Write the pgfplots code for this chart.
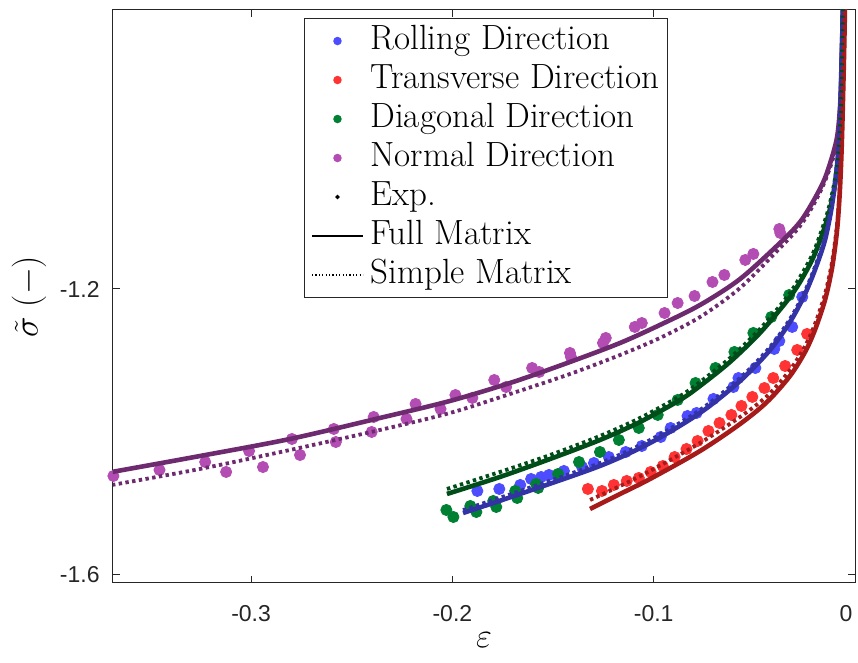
\documentclass[border=0pt]{standalone}
\usepackage{fontspec}
\newfontfamily\ticksfont{Liberation Sans}
\usepackage{pgfplots}
\pgfplotsset{compat=1.18}
\definecolor{dotB}{RGB}{77,77,255}
\definecolor{dotR}{RGB}{255,51,51}
\definecolor{dotG}{RGB}{0,128,51}
\definecolor{dotP}{RGB}{179,77,179}
\definecolor{lnB}{RGB}{51,51,166}
\definecolor{lnR}{RGB}{166,26,26}
\definecolor{lnG}{RGB}{0,77,26}
\definecolor{lnP}{RGB}{110,42,110}
\definecolor{axc}{RGB}{38,38,38}
\begin{document}
\begin{tikzpicture}
\begin{axis}[
  scale only axis, width=371pt, height=286.5pt,
  xmin=-0.3686, xmax=0, ymin=-1.6112, ymax=-0.8098,
  clip mode=individual,
  axis line style={axc, line width=0.5pt},
  tick style={axc, line width=0.5pt},
  tick align=inside, major tick length=3.7pt,
  xtick={-0.3,-0.2,-0.1,0}, xticklabels={-0.3,-0.2,-0.1,\hspace*{-9pt}0},
  ytick={-1.6,-1.2}, yticklabels={-1.6,-1.2},
  xticklabel style={font=\ticksfont\fontsize{11.5}{13}\selectfont, text=axc, inner sep=0pt, anchor=north, yshift=-11pt},
  yticklabel style={font=\ticksfont\fontsize{11.5}{13}\selectfont, text=axc, inner sep=0pt, anchor=east, xshift=-6.5pt},
  xlabel={$\varepsilon$},
  ylabel={$\tilde{\sigma}\;(-)$},
  xlabel style={font=\fontsize{16}{19}\selectfont, at={(axis description cs:0.5,-0.0995)}, anchor=center},
  ylabel style={font=\fontsize{16}{19}\selectfont, at={(axis description cs:-0.1132,0.5)}, anchor=center},
  legend style={at={(0.2574,0.986)}, anchor=north west, draw=axc, line width=0.5pt, fill=white,
    inner xsep=2pt, inner ysep=1.5pt, row sep=0pt, column sep=0pt,
    nodes={inner xsep=2pt, inner ysep=1.75pt, text height=12pt, text depth=4pt, font=\fontsize{17.5}{20}\selectfont}},
  legend cell align=left,
  every mark/.append style={draw=none},
]
% experimental points
\addplot[dotP, only marks, mark=*, mark size=2.8pt, forget plot] table {
-0.3684 -1.4615
-0.3455 -1.4531
-0.3228 -1.4420
-0.3124 -1.4559
-0.3010 -1.4266
-0.2941 -1.4490
-0.2797 -1.4098
-0.2757 -1.4322
-0.2589 -1.3958
-0.2579 -1.4140
-0.2391 -1.3790
-0.2401 -1.4000
-0.2228 -1.3818
-0.2183 -1.3608
-0.2059 -1.3678
-0.1985 -1.3483
-0.1901 -1.3524
-0.1792 -1.3273
-0.1733 -1.3371
-0.1604 -1.3105
-0.1569 -1.3161
-0.1416 -1.2895
-0.1411 -1.2951
-0.1252 -1.2755
-0.1238 -1.2685
-0.1094 -1.2531
-0.1059 -1.2476
-0.0946 -1.2336
-0.0881 -1.2196
-0.0797 -1.2098
-0.0708 -1.1902
-0.0649 -1.1804
-0.0545 -1.1594
-0.0505 -1.1510
-0.0376 -1.1161
-0.0371 -1.1217
};
\addplot[dotB, only marks, mark=*, mark size=2.8pt, forget plot] table {
-0.1876 -1.4825
-0.1767 -1.4797
-0.1663 -1.4741
-0.1609 -1.4657
-0.1559 -1.4629
-0.1520 -1.4601
-0.1446 -1.4545
-0.1356 -1.4490
-0.1297 -1.4434
-0.1223 -1.4350
-0.1139 -1.4280
-0.1059 -1.4196
-0.0965 -1.4070
-0.0916 -1.3944
-0.0832 -1.3776
-0.0787 -1.3734
-0.0703 -1.3538
-0.0604 -1.3371
-0.0579 -1.3245
-0.0495 -1.3105
-0.0401 -1.2839
-0.0376 -1.2727
-0.0312 -1.2531
-0.0262 -1.2112
};
\addplot[dotR, only marks, mark=*, mark size=2.8pt, forget plot] table {
-0.1327 -1.4797
-0.1257 -1.4825
-0.1198 -1.4741
-0.1134 -1.4685
-0.1074 -1.4643
-0.1015 -1.4559
-0.0955 -1.4476
-0.0896 -1.4350
-0.0837 -1.4238
-0.0782 -1.4126
-0.0728 -1.3986
-0.0673 -1.3874
-0.0614 -1.3762
-0.0564 -1.3636
-0.0510 -1.3510
-0.0450 -1.3385
-0.0406 -1.3245
-0.0347 -1.3077
-0.0287 -1.2853
-0.0238 -1.2629
};
\addplot[dotG, only marks, mark=*, mark size=2.8pt, forget plot] table {
-0.2030 -1.5091
-0.1995 -1.5189
-0.1911 -1.5035
-0.1881 -1.5119
-0.1797 -1.4965
-0.1782 -1.5049
-0.1688 -1.4825
-0.1678 -1.4923
-0.1584 -1.4727
-0.1574 -1.4783
-0.1475 -1.4587
-0.1371 -1.4420
-0.1267 -1.4280
-0.1173 -1.4112
-0.1074 -1.3944
-0.0980 -1.3762
-0.0881 -1.3552
-0.0792 -1.3315
-0.0693 -1.3105
-0.0599 -1.2881
-0.0505 -1.2615
-0.0416 -1.2392
-0.0327 -1.2084
};
% full matrix
\addplot[lnP, line width=2.3pt, smooth, tension=0.5, forget plot] table {
-0.3691 -1.4559
-0.3254 -1.4336
-0.2807 -1.4098
-0.2360 -1.3804
-0.2012 -1.3566
-0.1699 -1.3301
-0.1416 -1.3021
-0.1167 -1.2755
-0.0969 -1.2503
-0.0770 -1.2224
-0.0571 -1.1860
-0.0373 -1.1357
-0.0273 -1.1063
-0.0204 -1.0755
-0.0149 -1.0448
-0.0104 -1.0056
-0.0084 -0.9776
-0.0070 -0.9217
-0.0060 -0.8098
-0.0055 -0.7700
};
\addplot[lnG, line width=2.3pt, smooth, tension=0.5, forget plot] table {
-0.2027 -1.4867
-0.1764 -1.4629
-0.1515 -1.4378
-0.1267 -1.4112
-0.1068 -1.3860
-0.0869 -1.3552
-0.0770 -1.3357
-0.0621 -1.3021
-0.0472 -1.2615
-0.0338 -1.2168
-0.0273 -1.1902
-0.0204 -1.1538
-0.0139 -1.1035
-0.0104 -1.0615
-0.0084 -1.0196
-0.0070 -0.9497
-0.0060 -0.8098
-0.0055 -0.7700
};
\addplot[lnB, line width=2.3pt, smooth, tension=0.5, forget plot] table {
-0.1947 -1.5133
-0.1664 -1.4867
-0.1267 -1.4475
-0.1018 -1.4154
-0.0770 -1.3734
-0.0571 -1.3287
-0.0422 -1.2853
-0.0323 -1.2462
-0.0253 -1.2098
-0.0199 -1.1734
-0.0149 -1.1315
-0.0114 -1.0825
-0.0089 -1.0266
-0.0075 -0.9636
-0.0060 -0.8098
-0.0055 -0.7700
};
\addplot[lnR, line width=2.3pt, smooth, tension=0.5, forget plot] table {
-0.1316 -1.5077
-0.1167 -1.4867
-0.1018 -1.4657
-0.0770 -1.4266
-0.0571 -1.3888
-0.0437 -1.3580
-0.0323 -1.3217
-0.0248 -1.2881
-0.0199 -1.2573
-0.0149 -1.2154
-0.0114 -1.1706
-0.0089 -1.1175
-0.0075 -1.0615
-0.0065 -0.9915
-0.0055 -0.8797
-0.0050 -0.8098
-0.0047 -0.7700
};
% simple matrix
\addplot[lnP, line width=1.9pt, dash pattern=on 1.7pt off 1.7pt, smooth, tension=0.5, forget plot] table {
-0.3691 -1.4741
-0.3254 -1.4517
-0.2807 -1.4252
-0.2360 -1.3972
-0.2012 -1.3734
-0.1699 -1.3455
-0.1416 -1.3189
-0.1167 -1.2923
-0.0969 -1.2685
-0.0770 -1.2392
-0.0571 -1.1986
-0.0373 -1.1427
-0.0273 -1.1119
-0.0204 -1.0811
-0.0149 -1.0490
-0.0104 -1.0126
-0.0084 -0.9804
-0.0070 -0.9245
-0.0060 -0.8098
-0.0055 -0.7700
};
\addplot[lnG, line width=1.9pt, dash pattern=on 1.7pt off 1.7pt, smooth, tension=0.5, forget plot] table {
-0.2027 -1.4797
-0.1764 -1.4559
-0.1515 -1.4322
-0.1267 -1.4056
-0.1068 -1.3804
-0.0869 -1.3497
-0.0770 -1.3301
-0.0621 -1.2965
-0.0472 -1.2559
-0.0338 -1.2112
-0.0273 -1.1832
-0.0204 -1.1469
-0.0139 -1.0951
-0.0104 -1.0531
-0.0084 -1.0112
-0.0070 -0.9427
-0.0060 -0.8098
-0.0055 -0.7700
};
\addplot[lnB, line width=1.9pt, dash pattern=on 1.7pt off 1.7pt, smooth, tension=0.5, forget plot] table {
-0.1947 -1.5091
-0.1664 -1.4825
-0.1267 -1.4434
-0.1018 -1.4112
-0.0770 -1.3692
-0.0571 -1.3245
-0.0422 -1.2811
-0.0323 -1.2420
-0.0253 -1.2056
-0.0199 -1.1692
-0.0149 -1.1273
-0.0114 -1.0783
-0.0089 -1.0224
-0.0075 -0.9594
-0.0060 -0.8098
-0.0055 -0.7700
};
\addplot[lnR, line width=1.9pt, dash pattern=on 1.7pt off 1.7pt, smooth, tension=0.5, forget plot] table {
-0.1316 -1.4951
-0.1167 -1.4755
-0.1018 -1.4545
-0.0770 -1.4154
-0.0571 -1.3790
-0.0437 -1.3497
-0.0323 -1.3133
-0.0248 -1.2797
-0.0199 -1.2490
-0.0149 -1.2070
-0.0114 -1.1622
-0.0089 -1.1091
-0.0075 -1.0531
-0.0065 -0.9832
-0.0055 -0.8727
-0.0050 -0.8098
-0.0047 -0.7700
};
% legend
\addlegendimage{legend image code/.code={\path (0pt,0pt) (28.5pt,0pt); \fill[dotB] (14.25pt,0pt) circle (1.85pt);}}
\addlegendentry{Rolling Direction}
\addlegendimage{legend image code/.code={\path (0pt,0pt) (28.5pt,0pt); \fill[dotR] (14.25pt,0pt) circle (1.85pt);}}
\addlegendentry{Transverse Direction}
\addlegendimage{legend image code/.code={\path (0pt,0pt) (28.5pt,0pt); \fill[dotG] (14.25pt,0pt) circle (1.85pt);}}
\addlegendentry{Diagonal Direction}
\addlegendimage{legend image code/.code={\path (0pt,0pt) (28.5pt,0pt); \fill[dotP] (14.25pt,0pt) circle (1.85pt);}}
\addlegendentry{Normal Direction}
\addlegendimage{legend image code/.code={\path (0pt,0pt) (28.5pt,0pt); \fill[black] (14.25pt,0pt) circle (0.8pt);}}
\addlegendentry{Exp.}
\addlegendimage{legend image code/.code={\path (0pt,0pt) (28.5pt,0pt); \draw[black, line width=0.6pt] (1.5pt,0pt) -- (27pt,0pt);}}
\addlegendentry{Full Matrix}
\addlegendimage{legend image code/.code={\path (0pt,0pt) (28.5pt,0pt); \draw[black, line width=0.6pt, dash pattern=on 0.6pt off 1.1pt] (1.5pt,0pt) -- (27pt,0pt);}}
\addlegendentry{Simple Matrix}
\end{axis}
\pgfresetboundingbox
\path ([shift={(-56.5pt,-40pt)}]current axis.south west) rectangle ([shift={(1.5pt,5pt)}]current axis.north east);
\end{tikzpicture}
\end{document}
